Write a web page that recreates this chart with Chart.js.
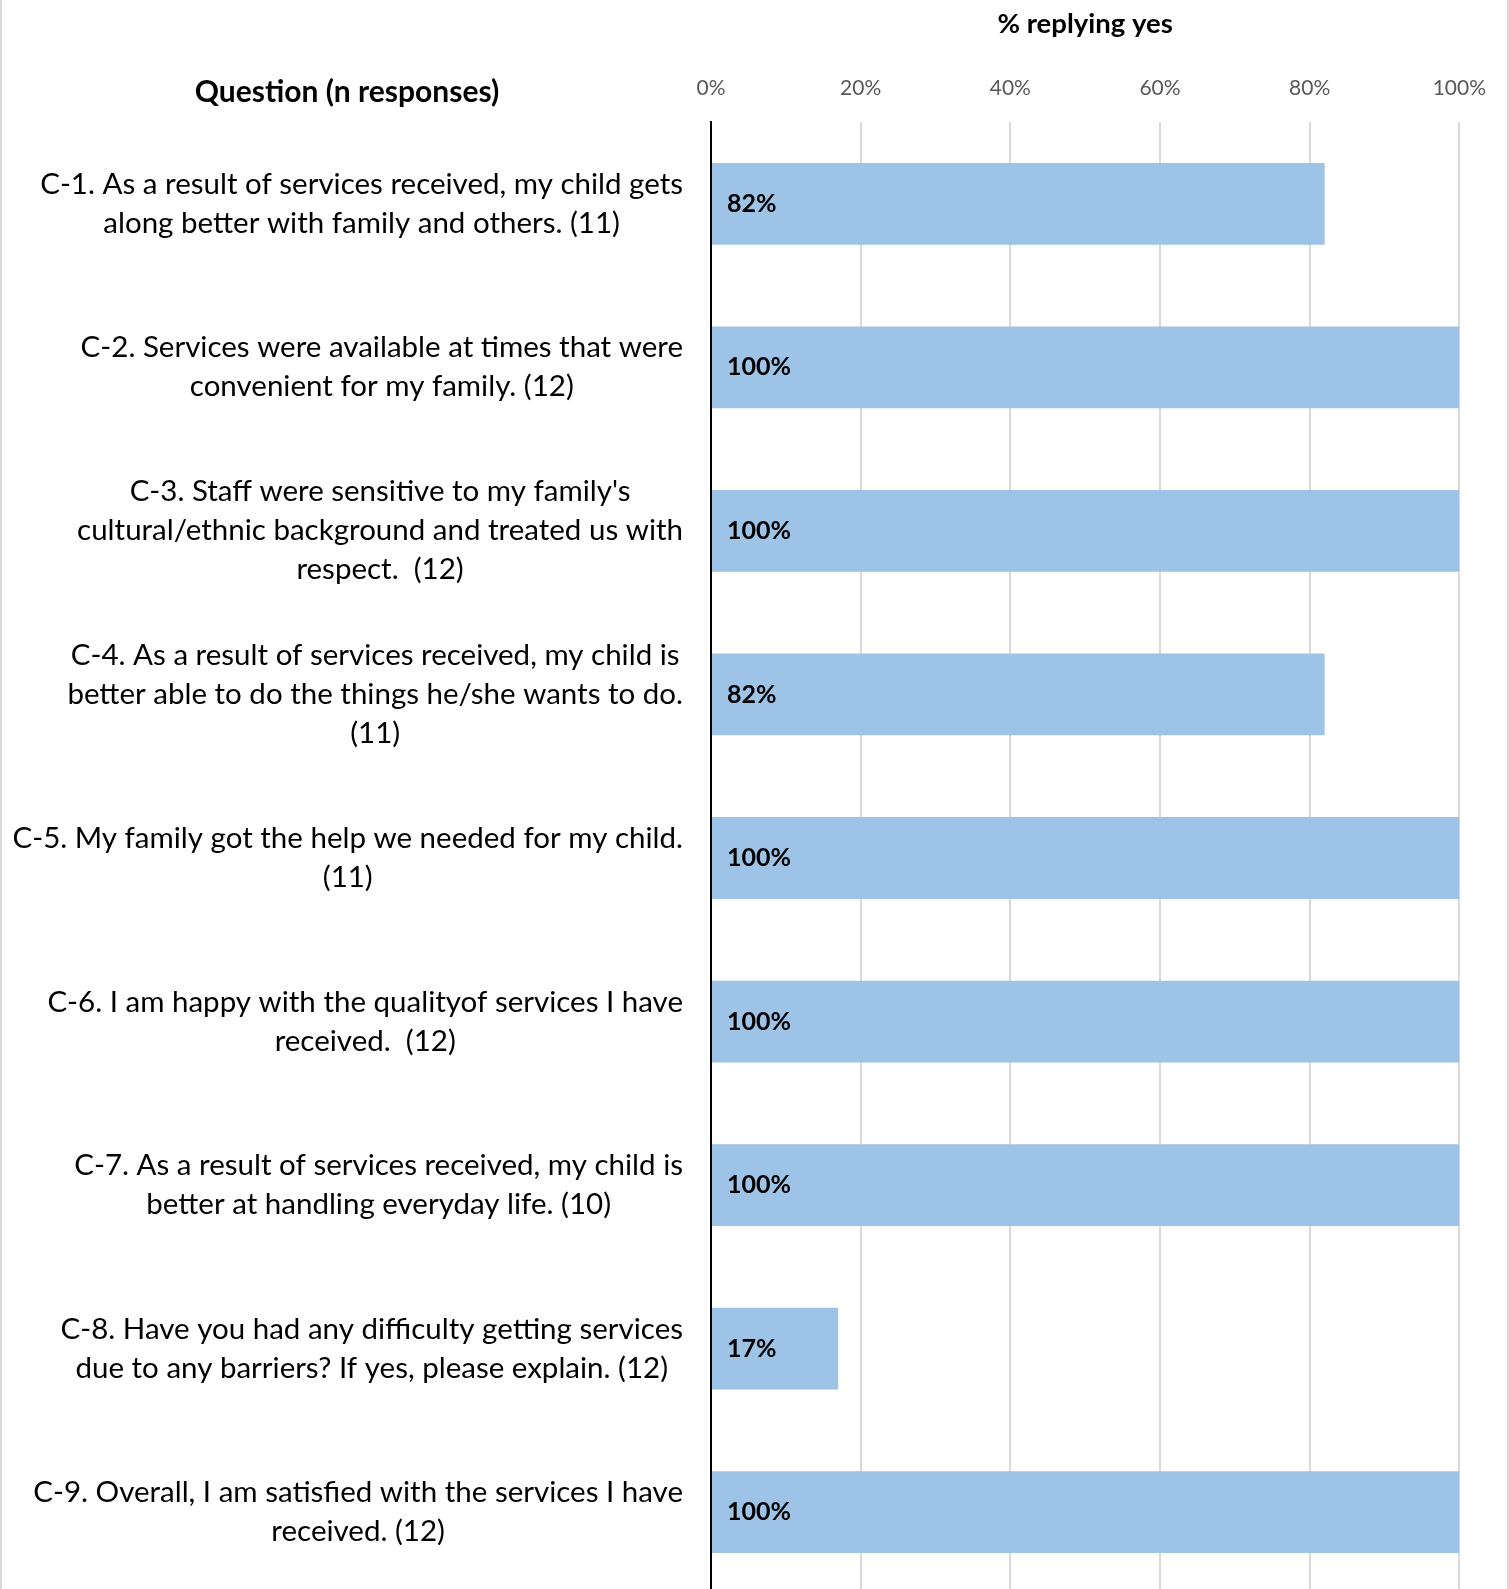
<!DOCTYPE html>
<html>
<head>
<meta charset="utf-8">
<script src="https://cdn.jsdelivr.net/npm/chart.js@4.4.0/dist/chart.umd.min.js"></script>
<style>
  html, body { margin: 0; padding: 0; background: #fff; overflow: hidden; }
  #wrap { width: 1505px; height: 1600px; border-left: 2px solid #d9d9d9; border-right: 2px solid #d9d9d9; }
</style>
</head>
<body>
<div id="wrap"><canvas id="chart" width="1505" height="1600"></canvas></div>
<script>
// survey questions, one array of lines per question
const questions = [
  ['C-1. As a result of services received, my child gets', 'along better with family and others. (11)'],
  ['C-2. Services were available at times that were', 'convenient for my family. (12)'],
  ["C-3. Staff were sensitive to my family's", 'cultural/ethnic background and treated us with', 'respect.  (12)'],
  ['C-4. As a result of services received, my child is', 'better able to do the things he/she wants to do.', '(11)'],
  ['C-5. My family got the help we needed for my child.', '(11)'],
  ['C-6. I am happy with the qualityof services I have', 'received.  (12)'],
  ['C-7. As a result of services received, my child is', 'better at handling everyday life. (10)'],
  ['C-8. Have you had any difficulty getting services', 'due to any barriers? If yes, please explain. (12)'],
  ['C-9. Overall, I am satisfied with the services I have', 'received. (12)']
];
const pctYes = [82, 100, 100, 82, 100, 100, 100, 17, 100];
const xTicks = [0, 20, 40, 60, 80, 100];

const FONT = 'Lato';

// question text: block right aligned, lines centred inside the block
const questionLabels = {
  id: 'questionLabels',
  afterDraw(chart) {
    const ctx = chart.ctx;
    const y = chart.scales.y;
    const right = y.right - 28;
    ctx.save();
    ctx.fillStyle = '#000';
    ctx.textAlign = 'center';
    ctx.textBaseline = 'middle';
    ctx.font = '29.5px ' + FONT;
    questions.forEach((lines, i) => {
      const widest = Math.max(...lines.map(l => ctx.measureText(l).width));
      const cx = right - widest / 2;
      const cy = y.getPixelForTick(i);
      lines.forEach((line, j) => {
        ctx.fillText(line, cx, cy + (j - (lines.length - 1) / 2) * 39);
      });
    });
    ctx.font = 'bold 30px ' + FONT;
    ctx.fillText('Question (n responses)', 345, 92);
    ctx.restore();
  }
};

// value labels at the inner left end of each bar
const barValueLabels = {
  id: 'barValueLabels',
  afterDatasetsDraw(chart) {
    const ctx = chart.ctx;
    const meta = chart.getDatasetMeta(0);
    ctx.save();
    ctx.fillStyle = '#000';
    ctx.textAlign = 'left';
    ctx.textBaseline = 'middle';
    ctx.font = 'bold 25px ' + FONT;
    meta.data.forEach((bar, i) => {
      ctx.fillText(pctYes[i] + '%', bar.base + 15, bar.y);
    });
    ctx.restore();
  }
};

const ctx = document.getElementById('chart').getContext('2d');
new Chart(ctx, {
  type: 'bar',
  data: {
    labels: questions,
    datasets: [{
      data: pctYes,
      backgroundColor: '#9dc3e6',
      borderWidth: 0,
      barPercentage: 0.5,
      categoryPercentage: 1.0
    }]
  },
  options: {
    indexAxis: 'y',
    responsive: false,
    animation: false,
    layout: { padding: { left: 0, right: 47, top: 0, bottom: 6 } },
    plugins: {
      legend: { display: false },
      tooltip: { enabled: false }
    },
    scales: {
      x: {
        type: 'linear',
        position: 'top',
        min: 0,
        max: 100,
        afterBuildTicks: s => { s.ticks = xTicks.map(v => ({ value: v })); },
        afterFit: s => { s.height = 122; },
        ticks: {
          callback: v => v + '%',
          color: '#595959',
          font: { family: FONT, size: 21 },
          padding: 21
        },
        grid: { color: '#d9d9d9', lineWidth: 2, drawTicks: false },
        border: { display: false },
        title: {
          display: true,
          text: '% replying yes',
          color: '#000',
          font: { family: FONT, size: 27.5, weight: 'bold' },
          padding: { top: 8, bottom: 0 }
        }
      },
      y: {
        afterFit: s => { s.width = 709; },
        ticks: { display: false },
        grid: { display: false },
        border: { color: '#000', width: 2 }
      }
    }
  },
  plugins: [questionLabels, barValueLabels]
});
</script>
</body>
</html>
